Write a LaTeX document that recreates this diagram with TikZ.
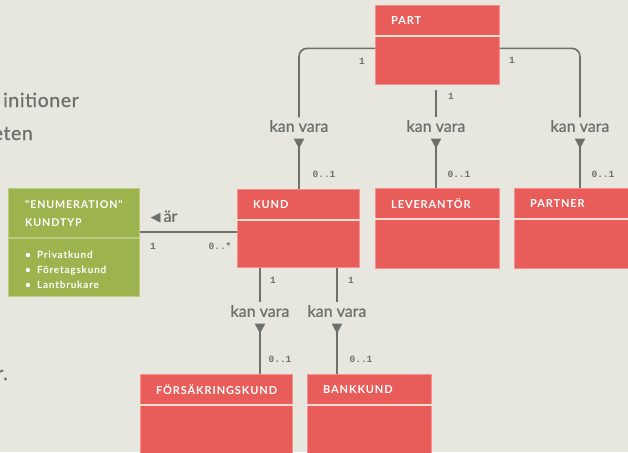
\documentclass[tikz,border=0pt]{standalone}
\usepackage{fontspec}
\setmainfont{Lato}
\newfontfamily\headfont{Lato}[LetterSpace=8]
\newfontfamily\relfont{Lato}[FakeBold=0.8]
\newfontfamily\sidefont{Lato}[FakeBold=0.8, LetterSpace=3]
\newfontfamily\multfont{Liberation Mono}
\newfontfamily\symfont{DejaVu Sans}
\usetikzlibrary{arrows.meta,calc}

\definecolor{paper}{HTML}{E7E6DF}
\definecolor{klass}{HTML}{E85D5A}
\definecolor{klassedge}{HTML}{F2908B}
\definecolor{enumgreen}{HTML}{9DB44E}
\definecolor{enumedge}{HTML}{BACB82}
\definecolor{divide}{HTML}{F4DCD2}
\definecolor{ink}{HTML}{6E706C}

\tikzset{
    every node/.style={inner sep=0pt},
    classbox/.style={rectangle, anchor=north west, fill=klass, draw=klassedge, line width=.8pt},
    enumbox/.style={rectangle, anchor=north west, fill=enumgreen, draw=enumedge, line width=.8pt},
    title/.style={anchor=west, text=white, font=\headfont\bfseries\fontsize{11}{13}\selectfont},
    rel/.style={text=ink, font=\relfont\fontsize{16}{18}\selectfont, inner sep=2.5pt},
    mult/.style={text=ink, font=\multfont\bfseries\fontsize{9.5}{11}\selectfont},
    side/.style={anchor=base east, text=ink, font=\sidefont\fontsize{19.5}{22}\selectfont},
    link/.style={draw=ink, line width=1.6pt},
    isa/.style={link, {Triangle[reversed,width=10pt,length=10pt]}-, shorten <=4pt},
    divider/.style={draw=divide, line width=2pt}
}

\begin{document}
\begin{tikzpicture}[x=1pt, y=-1pt]
    \fill[paper] (0,0) rectangle (628,452);
    \useasboundingbox (0,0) rectangle (628,452);

    % text cut off at the left edge
    \node (def1) [side] at (79,107) {initioner};
    \node (def2) [side] at (33,140) {eten};
    \node (def3) [side] at (8,380) {r.};

    % classes
    \node (part) [classbox, minimum width=124pt, minimum height=79pt] at (375,5) {};
    \node (kund) [classbox, minimum width=122pt, minimum height=78pt] at (237,189) {};
    \node (lev) [classbox, minimum width=124pt, minimum height=80pt] at (375,188) {};
    \node (partner) [classbox, minimum width=124pt, minimum height=80pt] at (514,188) {};
    \node (fors) [classbox, minimum width=152pt, minimum height=90pt] at (140,374) {};
    \node (bank) [classbox, minimum width=124pt, minimum height=90pt] at (307,374) {};
    \node (enum) [enumbox, minimum width=131pt, minimum height=108pt] at (8,188) {};

    \draw[divider] ($(part.north west)+(0,31)$) -- ($(part.north east)+(0,31)$);
    \draw[divider] ($(kund.north west)+(0,31)$) -- ($(kund.north east)+(0,31)$);
    \draw[divider] ($(lev.north west)+(0,31)$) -- ($(lev.north east)+(0,31)$);
    \draw[divider] ($(partner.north west)+(0,31)$) -- ($(partner.north east)+(0,31)$);
    \draw[divider] ($(fors.north west)+(0,31)$) -- ($(fors.north east)+(0,31)$);
    \draw[divider] ($(bank.north west)+(0,31)$) -- ($(bank.north east)+(0,31)$);
    \draw[divider, draw=enumedge] ($(enum.north west)+(0,50)$) -- ($(enum.north east)+(0,50)$);

    \node (part-t) [title] at ($(part.north west)+(16,16)$) {PART};
    \node (kund-t) [title] at ($(kund.north west)+(16,16)$) {KUND};
    \node (lev-t) [title] at ($(lev.north west)+(16,16)$) {LEVERANTÖR};
    \node (partner-t) [title] at ($(partner.north west)+(16,16)$) {PARTNER};
    \node (fors-t) [title] at ($(fors.north west)+(16,16)$) {FÖRSÄKRINGSKUND};
    \node (bank-t) [title] at ($(bank.north west)+(16,16)$) {BANKKUND};
    \node (enum-t) [title, anchor=north west, align=left, font=\headfont\bfseries\fontsize{10.7}{18}\selectfont]
        at ($(enum.north west)+(17,12)$) {"ENUMERATION"\\KUNDTYP};
    \node (enum-v) [anchor=north west, align=left, text=white, font=\headfont\bfseries\fontsize{10}{15}\selectfont]
        at ($(enum.north west)+(17,63)$) {\textbullet\hspace{6pt}Privatkund\\\textbullet\hspace{6pt}Företagskund\\\textbullet\hspace{6pt}Lantbrukare};

    % relations
    \node (isa-kund) [rel] at (299,126) {kan vara};
    \node (isa-lev) [rel] at (436,126) {kan vara};
    \node (isa-partner) [rel] at (580,126) {kan vara};
    \node (isa-fors) [rel] at (260,311) {kan vara};
    \node (isa-bank) [rel] at (337,311) {kan vara};
    \node (ar) [text=ink, font=\relfont\fontsize{16}{18}\selectfont] at (164,217) {{\symfont\fontsize{13}{13}\selectfont ◀}\hspace{3pt}är};

    \draw[link, rounded corners=8pt] ($(part.west)+(0,3.5)$) -| (isa-kund.north);
    \draw[link, rounded corners=8pt] ($(part.east)+(0,3.5)$) -| (isa-partner.north);
    \draw[link, shorten <=5pt] (isa-lev.north |- part.south) -- (isa-lev.north);
    \draw[link] (isa-fors.north |- kund.south) -- (isa-fors.north);
    \draw[link] (isa-bank.north |- kund.south) -- (isa-bank.north);

    \draw[isa] (isa-kund.south) -- (isa-kund.south |- kund.north);
    \draw[isa] (isa-lev.south) -- (isa-lev.south |- lev.north);
    \draw[isa] (isa-partner.south) -- (isa-partner.south |- partner.north);
    \draw[isa] (isa-fors.south) -- (isa-fors.south |- fors.north);
    \draw[isa] (isa-bank.south) -- (isa-bank.south |- bank.north);

    \draw[link] ($(enum.north east)+(0,44)$) -- ($(kund.north west)+(0,43)$);

    % multiplicities
    \node (m1) [mult] at (362,61) {1};
    \node (m2) [mult] at (512,60) {1};
    \node (m3) [mult] at (451,96) {1};
    \node (m4) [mult] at (324,174) {0..1};
    \node (m5) [mult] at (459,174) {0..1};
    \node (m6) [mult] at (603,174) {0..1};
    \node (m7) [mult] at (273,280) {1};
    \node (m8) [mult] at (351,280) {1};
    \node (m9) [mult] at (280,359) {0..1};
    \node (m10) [mult] at (361,359) {0..1};
    \node (m11) [mult] at (153,246) {1};
    \node (m12) [mult] at (220,246) {0..*};
\end{tikzpicture}
\end{document}
